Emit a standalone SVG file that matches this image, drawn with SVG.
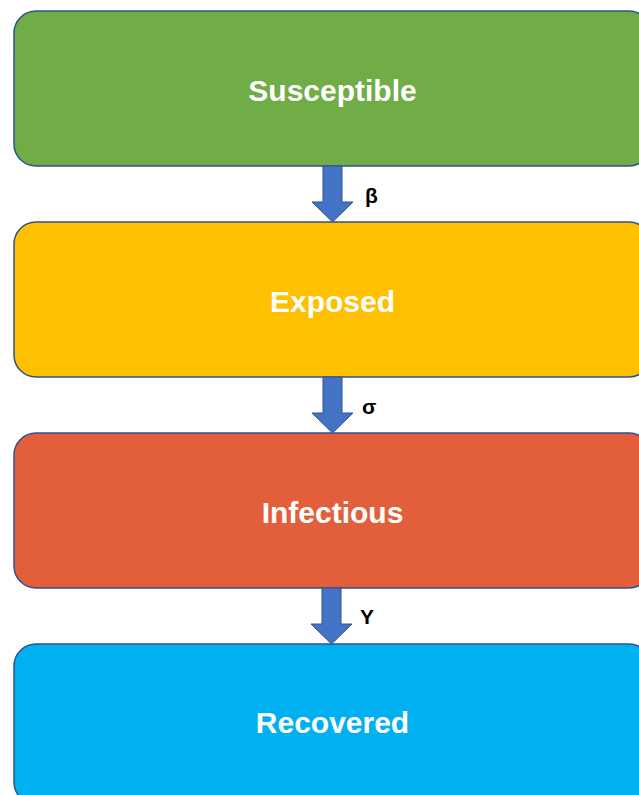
<svg xmlns="http://www.w3.org/2000/svg" width="639" height="795" viewBox="0 0 639 795">
<style>
.box{stroke:#2F528F;stroke-width:1.5}
.lbl{font-family:"Liberation Sans",Arial,sans-serif;font-weight:bold;font-size:30px;fill:#fff;text-anchor:middle}
.rate{font-family:"Liberation Sans",Arial,sans-serif;font-weight:bold;font-size:21px;fill:#000}
.arr{fill:#4472C4;stroke:#2F528F;stroke-width:1}
</style>
<rect width="639" height="795" fill="#fff"/>
<g id="susceptible">
<rect class="box" x="14" y="11" width="637" height="155" rx="22" fill="#70AD47"/>
<text class="lbl" x="332.5" y="101">Susceptible</text>
</g>
<g id="exposed">
<rect class="box" x="14" y="222" width="637" height="155" rx="22" fill="#FFC000"/>
<text class="lbl" x="332.5" y="312">Exposed</text>
</g>
<g id="infectious">
<rect class="box" x="14" y="433" width="637" height="155" rx="22" fill="#E35F3B"/>
<text class="lbl" x="332.5" y="523">Infectious</text>
</g>
<g id="recovered">
<rect class="box" x="14" y="644" width="637" height="160" rx="22" fill="#00B0F0"/>
<text class="lbl" x="332.5" y="733">Recovered</text>
</g>
<g id="connectors">
<path class="arr" d="M323,166 H342 V202 H353 L332.5,222 L312,202 H323 Z"/>
<path class="arr" d="M323,377 H342 V413 H353 L332.5,433 L312,413 H323 Z"/>
<path class="arr" d="M322,588 H341 V624 H352 L331.5,644 L311,624 H322 Z"/>
<text class="rate" x="365" y="203">β</text>
<text class="rate" x="362" y="414">σ</text>
<text class="rate" x="360" y="624">Y</text>
</g>
</svg>
